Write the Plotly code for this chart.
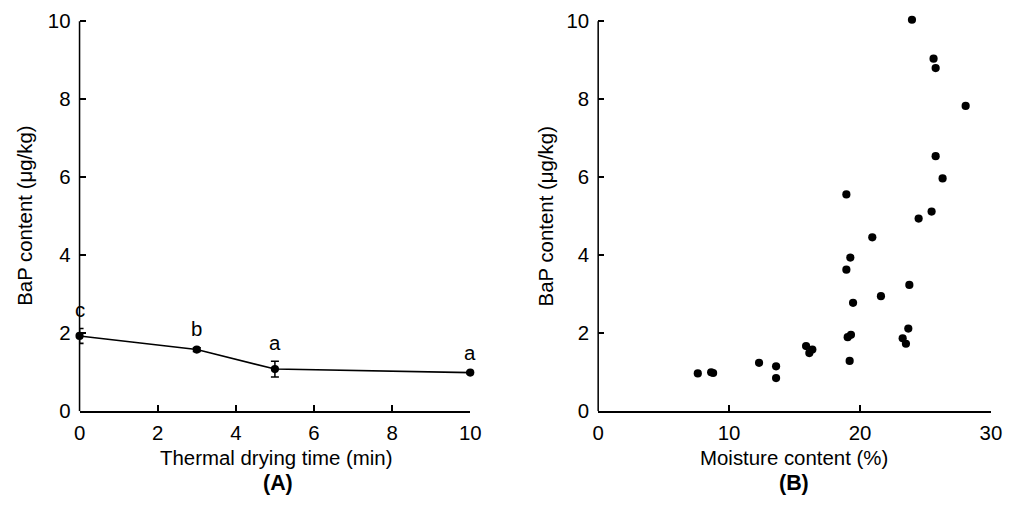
import plotly.graph_objects as go

# Panel A data
time_min = [0, 3, 5, 10]
bap_mean = [1.93, 1.58, 1.08, 0.99]
bap_sd = [0.19, 0.05, 0.20, 0.03]
sig_letters = ["c", "b", "a", "a"]

# Panel B data
moisture = [23.97, 25.62, 25.78, 28.07, 25.78, 26.31, 18.96, 25.47, 24.48, 20.94,
            19.26, 18.96, 23.77, 21.6, 19.47, 23.69, 19.31, 19.06, 23.26, 23.51,
            15.88, 16.36, 16.13, 19.21, 12.29, 13.59, 13.59, 7.61, 8.63, 8.78]
bap_b = [10.04, 9.04, 8.80, 7.83, 6.54, 5.97, 5.56, 5.12, 4.94, 4.46,
         3.94, 3.63, 3.24, 2.95, 2.78, 2.12, 1.96, 1.90, 1.87, 1.73,
         1.67, 1.58, 1.49, 1.29, 1.24, 1.15, 0.85, 0.97, 1.00, 0.98]

y_ticks = [0, 2, 4, 6, 8, 10]
xa_ticks = [0, 2, 4, 6, 8, 10]
xb_ticks = [0, 10, 20, 30]

FONT = "Arial, Liberation Sans, sans-serif"
W, H = 1018, 506

# measured mapping from figure pixels to photographed pixels
AX, BX = 0.984, 5.4
AY, BY = 0.974, 4.6
S = 1 / ((AX + AY) / 2)  # size compensation


def xp(px):
    return ((px - BX) / AX) / W


def yp(py):
    return 1 - ((py - BY) / AY) / H


LW = 1.5 * S
fig = go.Figure()
fig.add_trace(go.Scatter(
    x=time_min, y=bap_mean, mode="lines+markers",
    line=dict(color="black", width=LW),
    marker=dict(color="black", size=8 * S),
    error_y=dict(type="data", array=bap_sd, color="black", thickness=LW, width=4),
    cliponaxis=False, showlegend=False, xaxis="x", yaxis="y"))
fig.add_trace(go.Scatter(
    x=moisture, y=bap_b, mode="markers",
    marker=dict(color="black", size=8 * S),
    cliponaxis=False, showlegend=False, xaxis="x2", yaxis="y2"))

FS = 20 * S
ax_common = dict(linecolor="black", linewidth=LW, ticks="inside",
                 ticklen=6, tickwidth=LW, tickcolor="black", showgrid=False,
                 zeroline=False, tickfont=dict(family=FONT, size=FS, color="black"))

ytop = 10.12
ppu = (413 - 20) / 10
ydom = [yp(413), yp(413 - ppu * ytop)]
fig.update_layout(
    width=W, height=H, margin=dict(l=0, r=0, t=0, b=0),
    paper_bgcolor="white", plot_bgcolor="white",
    font=dict(family=FONT, size=FS, color="black"),
    xaxis=dict(domain=[xp(79), xp(470)], range=[0, 10], tickvals=xa_ticks, anchor="y",
               showline=True, ticklabelstandoff=3, **ax_common),
    yaxis=dict(domain=ydom, range=[0, ytop], tickvals=y_ticks, anchor="x",
               showline=False, ticklabelstandoff=8, **ax_common),
    xaxis2=dict(domain=[xp(598), xp(991)], range=[0, 30], tickvals=xb_ticks, anchor="y2",
                showline=True, ticklabelstandoff=3, **ax_common),
    yaxis2=dict(domain=ydom, range=[0, ytop], tickvals=y_ticks, anchor="x2",
                showline=False, ticklabelstandoff=8, **ax_common),
)

for xr, yr in (("x", "y"), ("x2", "y2")):
    fig.add_shape(type="line", xref=f"{xr} domain", yref=yr, x0=0, x1=0,
                  y0=y_ticks[0], y1=y_ticks[-1], line=dict(color="black", width=LW),
                  layer="below")

ann = []
for t, m, s, l in zip(time_min, bap_mean, bap_sd, sig_letters):
    ann.append(dict(x=t, y=m + s, xref="x", yref="y", text=l, showarrow=False,
                    yanchor="middle", yshift=18 * S, font=dict(size=FS)))
ann += [
    dict(x=xp(276), y=yp(460), xref="paper", yref="paper", text="Thermal drying time (min)",
         showarrow=False, xanchor="center", yanchor="middle", font=dict(size=FS)),
    dict(x=xp(794), y=yp(460), xref="paper", yref="paper", text="Moisture content (%)",
         showarrow=False, xanchor="center", yanchor="middle", font=dict(size=FS)),
    dict(x=xp(278), y=yp(485), xref="paper", yref="paper", text="<b>(A)</b>",
         showarrow=False, xanchor="center", yanchor="middle", font=dict(size=21 * S)),
    dict(x=xp(794), y=yp(485), xref="paper", yref="paper", text="<b>(B)</b>",
         showarrow=False, xanchor="center", yanchor="middle", font=dict(size=21 * S)),
    dict(x=xp(25), y=yp(216.5), xref="paper", yref="paper", text="BaP content (μg/kg)", textangle=-90,
         showarrow=False, xanchor="center", yanchor="middle", font=dict(size=FS)),
    dict(x=xp(546), y=yp(216.5), xref="paper", yref="paper", text="BaP content (μg/kg)", textangle=-90,
         showarrow=False, xanchor="center", yanchor="middle", font=dict(size=FS)),
]
fig.update_layout(annotations=ann)
fig.write_html("out.html")
